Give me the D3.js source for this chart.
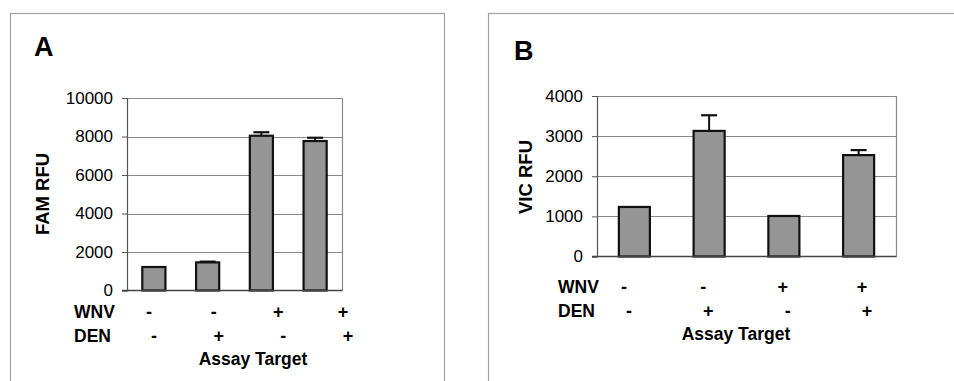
<!DOCTYPE html>
<html>
<head>
<meta charset="utf-8">
<script src="https://cdn.jsdelivr.net/npm/d3@7"></script>
<style>
  body { margin: 0; background: #fff; }
  svg { display: block; font-family: Arial, "Liberation Sans", sans-serif; }
</style>
</head>
<body>
<div id="chart"></div>
<script>
// categories and sign labels under the bars
const categories = ["WNV-/DEN-", "WNV-/DEN+", "WNV+/DEN-", "WNV+/DEN+"];
const wnvSigns = ["-", "-", "+", "+"];
const denSigns = ["-", "+", "-", "+"];

// panel A (FAM channel)
const famValues = [1220, 1460, 8040, 7765];
const famErrors = [0, 40, 180, 170];
const famTicks = [0, 2000, 4000, 6000, 8000, 10000];

// panel B (VIC channel)
const vicValues = [1235, 3130, 1010, 2527];
const vicErrors = [0, 390, 0, 125];
const vicTicks = [0, 1000, 2000, 3000, 4000];

const W = 954, H = 381;
const svg = d3.select("#chart").append("svg")
  .attr("width", W).attr("height", H);

// layout of each panel (frame, plot area, label rows)
const panels = [
  {
    letter: "A", title: "FAM RFU", values: famValues, errors: famErrors, ticks: famTicks,
    frame: {x: 10.5, y: 13.5, w: 434, h: 420},
    plot: {left: 127, right: 342, top: 98, bottom: 290.5},
    bandPad: 0.57,
    letterPos: [34, 56],
    titlePos: [49, 194],
    rowLabelX: 74, wnvY: 318, denY: 342, assayY: 365, assayX: 253,
    signRange: [151, 345], wnvShift: -2, denShift: 3
  },
  {
    letter: "B", title: "VIC RFU", values: vicValues, errors: vicErrors, ticks: vicTicks,
    frame: {x: 488.5, y: 13.5, w: 480, h: 420},
    plot: {left: 597, right: 896, top: 96, bottom: 256.5},
    bandPad: 0.585,
    letterPos: [514, 60],
    titlePos: [532, 177],
    rowLabelX: 558, wnvY: 293, denY: 317, assayY: 340, assayX: 736,
    signRange: [627, 865], wnvShift: -3, denShift: 2
  }
];

panels.forEach(p => {
  const g = svg.append("g");

  // outer frame
  g.append("rect")
    .attr("x", p.frame.x).attr("y", p.frame.y)
    .attr("width", p.frame.w).attr("height", p.frame.h)
    .attr("fill", "none").attr("stroke", "#a0a0a0").attr("stroke-width", 1.2);

  g.append("text")
    .attr("x", p.letterPos[0]).attr("y", p.letterPos[1])
    .attr("font-size", 27).attr("font-weight", "bold").attr("fill", "#000")
    .text(p.letter);

  const x = d3.scaleBand().domain(categories)
    .range([p.plot.left, p.plot.right])
    .paddingInner(p.bandPad).paddingOuter(p.bandPad / 2);
  const y = d3.scaleLinear()
    .domain([0, d3.max(p.ticks)])
    .range([p.plot.bottom, p.plot.top]);

  // gridlines
  g.append("g").selectAll("line")
    .data(p.ticks.filter(t => t > 0))
    .join("line")
    .attr("x1", p.plot.left).attr("x2", p.plot.right)
    .attr("y1", d => Math.round(y(d)) + 0.5).attr("y2", d => Math.round(y(d)) + 0.5)
    .attr("stroke", "#8a8a8a").attr("stroke-width", 1);

  // plot area border (top/right)
  g.append("path")
    .attr("d", `M${p.plot.left},${Math.round(p.plot.top) + 0.5}H${p.plot.right + 0.5}V${p.plot.bottom}`)
    .attr("fill", "none").attr("stroke", "#8a8a8a").attr("stroke-width", 1.2);

  // y axis
  const yAxis = g.append("g")
    .attr("transform", `translate(${p.plot.left},0)`)
    .call(d3.axisLeft(y).tickValues(p.ticks).tickSize(5).tickPadding(9).tickFormat(d3.format("d")));
  yAxis.select(".domain").attr("stroke", "#555").attr("stroke-width", 1.2);
  yAxis.selectAll(".tick line").attr("stroke", "#555");
  yAxis.selectAll("text")
    .attr("font-size", 17).attr("fill", "#000")
    .attr("font-family", "Arial, 'Liberation Sans', sans-serif");

  // bars
  g.append("g").selectAll("rect")
    .data(p.values)
    .join("rect")
    .attr("x", (d, i) => x(categories[i]))
    .attr("y", d => y(d))
    .attr("width", x.bandwidth())
    .attr("height", d => y(0) - y(d))
    .attr("fill", "#959595")
    .attr("stroke", "#111").attr("stroke-width", 2.2);

  // plus-only error bars
  const eb = g.append("g").selectAll("g")
    .data(p.values.map((v, i) => ({v, e: p.errors[i], c: categories[i]})).filter(d => d.e > 0))
    .join("g");
  eb.append("line")
    .attr("x1", d => x(d.c) + x.bandwidth() / 2).attr("x2", d => x(d.c) + x.bandwidth() / 2)
    .attr("y1", d => y(d.v)).attr("y2", d => y(d.v + d.e))
    .attr("stroke", "#111").attr("stroke-width", 2);
  eb.append("line")
    .attr("x1", d => x(d.c) + x.bandwidth() / 2 - 8).attr("x2", d => x(d.c) + x.bandwidth() / 2 + 8)
    .attr("y1", d => y(d.v + d.e)).attr("y2", d => y(d.v + d.e))
    .attr("stroke", "#111").attr("stroke-width", 2.2);

  // x baseline
  g.append("line")
    .attr("x1", p.plot.left - 5).attr("x2", p.plot.right + 0.5)
    .attr("y1", p.plot.bottom).attr("y2", p.plot.bottom)
    .attr("stroke", "#444").attr("stroke-width", 1.5);

  // y title
  g.append("text")
    .attr("transform", `translate(${p.titlePos[0]},${p.titlePos[1]}) rotate(-90)`)
    .attr("text-anchor", "middle")
    .attr("font-size", 18.5).attr("font-weight", "bold").attr("fill", "#000")
    .text(p.title);

  // sign rows
  const sx = d3.scalePoint().domain(categories).range(p.signRange);
  const rows = [
    {label: "WNV", signs: wnvSigns, y: p.wnvY, shift: p.wnvShift},
    {label: "DEN", signs: denSigns, y: p.denY, shift: p.denShift}
  ];
  rows.forEach(r => {
    g.append("text")
      .attr("x", p.rowLabelX).attr("y", r.y)
      .attr("font-size", 17.5).attr("font-weight", "bold").attr("fill", "#000")
      .text(r.label);
    g.append("g").selectAll("text")
      .data(r.signs)
      .join("text")
      .attr("x", (d, i) => sx(categories[i]) + r.shift)
      .attr("y", r.y)
      .attr("text-anchor", "middle")
      .attr("font-size", 18).attr("font-weight", "bold").attr("fill", "#000")
      .text(d => d);
  });

  g.append("text")
    .attr("x", p.assayX)
    .attr("y", p.assayY)
    .attr("text-anchor", "middle")
    .attr("font-size", 17.5).attr("font-weight", "bold").attr("fill", "#000")
    .text("Assay Target");
});
</script>
</body>
</html>
